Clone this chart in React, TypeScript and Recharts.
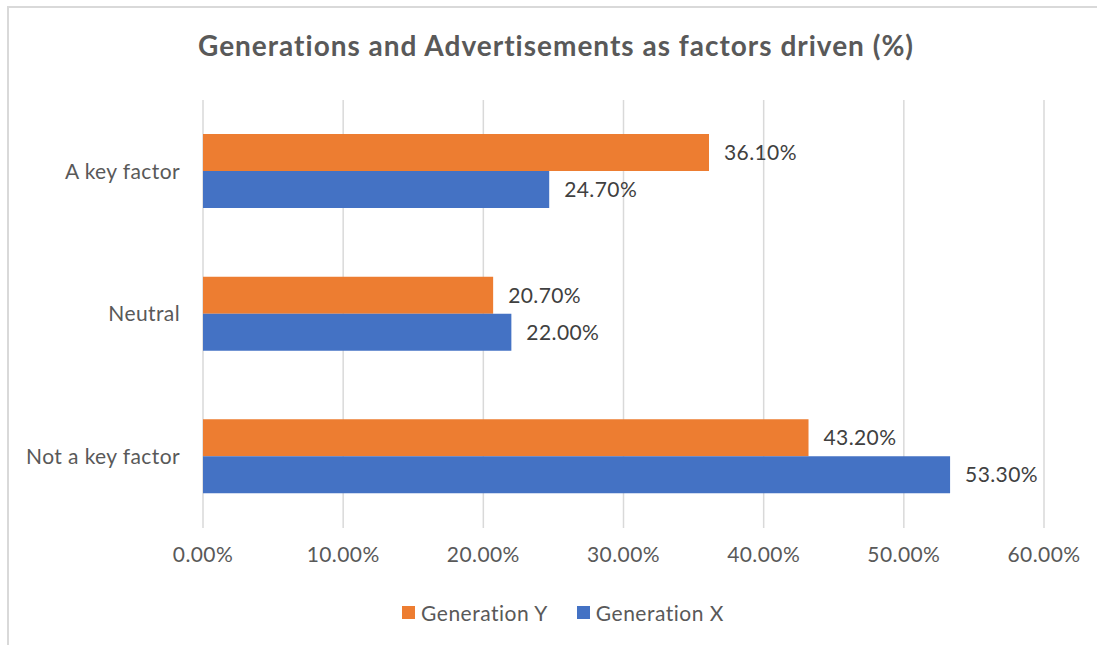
import {
  Bar,
  BarChart,
  CartesianGrid,
  LabelList,
  XAxis,
  YAxis,
} from "recharts";

const categories = ["A key factor", "Neutral", "Not a key factor"];
const generationY = [36.1, 20.7, 43.2];
const generationX = [24.7, 22.0, 53.3];
const xTicks = [0, 10, 20, 30, 40, 50, 60];

const seriesColors: Record<string, string> = {
  "Generation Y": "#ed7d31",
  "Generation X": "#4472c4",
};

const data = categories.map((name, i) => ({
  name,
  "Generation Y": generationY[i],
  "Generation X": generationX[i],
}));

const fmt = (v: number) => `${Number(v).toFixed(2)}%`;

const textStyle = { fontSize: 21, letterSpacing: 0.4 };

const LegendBox = () => (
  <div
    style={{
      position: "absolute",
      left: 0,
      top: 600,
      width: 1126,
      display: "flex",
      justifyContent: "center",
      gap: 29,
      fontSize: 21,
      letterSpacing: 0.5,
      color: "#595959",
    }}
  >
    {Object.keys(seriesColors).map((key) => (
      <div key={key} style={{ display: "flex", alignItems: "center" }}>
        <span
          style={{
            width: 13,
            height: 13,
            background: seriesColors[key],
            display: "inline-block",
            marginRight: 6,
          }}
        />
        {key}
      </div>
    ))}
  </div>
);

const App = () => {
  return (
    <div
      style={{
        position: "absolute",
        left: 0,
        top: 0,
        width: 1097,
        height: 645,
        background: "#fff",
        fontFamily: "Lato",
        fontVariantLigatures: "none",
      }}
    >
      <div
        style={{
          position: "absolute",
          left: 7,
          top: 6,
          width: 1090,
          height: 639,
          borderTop: "2px solid #d9d9d9",
          borderLeft: "2px solid #d9d9d9",
          boxSizing: "border-box",
        }}
      />
      <div
        style={{
          position: "absolute",
          left: 0,
          top: 28,
          width: 1112,
          textAlign: "center",
          fontSize: 28,
          letterSpacing: 1,
          fontWeight: 700,
          color: "#595959",
        }}
      >
        Generations and Advertisements as factors driven (%)
      </div>
      <div style={{ position: "absolute", left: 0, top: 0 }}>
        <BarChart
          width={1097}
          height={645}
          data={data}
          layout="vertical"
          barSize={37}
          barGap={0}
          margin={{ top: 100, right: 53, bottom: 77, left: 0 }}
        >
          <CartesianGrid horizontal={false} stroke="#d9d9d9" strokeWidth={1.5} />
          <XAxis
            type="number"
            domain={[0, 60]}
            ticks={xTicks}
            tickFormatter={fmt}
            axisLine={false}
            tickLine={false}
            tickSize={0}
            tickMargin={19}
            height={40}
            tick={{ ...textStyle, fill: "#595959" }}
          />
          <YAxis
            type="category"
            dataKey="name"
            width={203}
            axisLine={false}
            tickLine={false}
            tickSize={0}
            tickMargin={23}
            tick={{ ...textStyle, fill: "#595959" }}
          />
          {Object.keys(seriesColors).map((key) => (
            <Bar
              key={key}
              dataKey={key}
              fill={seriesColors[key]}
              isAnimationActive={false}
            >
              <LabelList
                dataKey={key}
                position="right"
                offset={15}
                formatter={(v: any) => fmt(v)}
                style={{ ...textStyle, fill: "#404040" }}
              />
            </Bar>
          ))}
        </BarChart>
      </div>
      <LegendBox />
    </div>
  );
};

export default App;
